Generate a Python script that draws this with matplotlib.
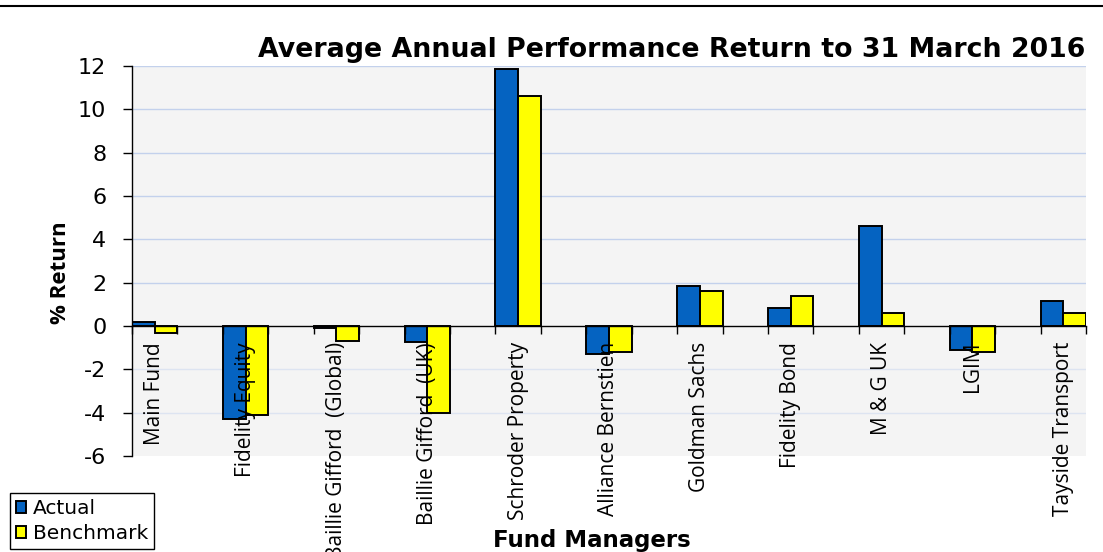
import matplotlib

matplotlib.use("Agg")

import matplotlib.pyplot as plt
import numpy as np
from matplotlib.lines import Line2D
from matplotlib.patches import Patch


OUTPUT_PATH = "out.png"

FUND_MANAGERS = [
    "Main Fund",
    "Fidelity Equity",
    "Baillie Gifford  (Global)",
    "Baillie Gifford  (UK)",
    "Schroder Property",
    "Alliance Bernstien",
    "Goldman Sachs",
    "Fidelity Bond",
    "M & G UK",
    "LGIM",
    "Tayside Transport",
]

ACTUAL_RETURN = [0.2, -4.3, -0.1, -0.75, 11.85, -1.3, 1.85, 0.85, 4.6, -1.1, 1.15]
BENCHMARK_RETURN = [-0.3, -4.1, -0.7, -4.0, 10.6, -1.2, 1.6, 1.4, 0.6, -1.2, 0.6]

Y_TICKS = [-6, -4, -2, 0, 2, 4, 6, 8, 10, 12]

ACTUAL_COLOUR = "#0563C1"
BENCHMARK_COLOUR = "#FFFF00"
BAR_WIDTH = 0.25

plt.rcParams["axes.unicode_minus"] = False


def plot_returns():
    fig = plt.figure(figsize=(11.03, 5.52), dpi=100)
    ax = fig.add_axes([132 / 1103, 1 - 456 / 552, 954 / 1103, 390 / 552])
    ax.set_facecolor("#f4f4f4")

    x = np.arange(len(FUND_MANAGERS))

    ax.bar(
        x - BAR_WIDTH / 2,
        ACTUAL_RETURN,
        BAR_WIDTH,
        color=ACTUAL_COLOUR,
        edgecolor="black",
        linewidth=1.4,
    )
    ax.bar(
        x + BAR_WIDTH / 2,
        BENCHMARK_RETURN,
        BAR_WIDTH,
        color=BENCHMARK_COLOUR,
        edgecolor="black",
        linewidth=1.4,
    )

    # gridlines behind the bars, lighter below zero
    for tick in Y_TICKS:
        if tick > 0:
            ax.axhline(tick, color="#c3d1ec", linewidth=1, zorder=0.5)
        elif -6 < tick < 0:
            ax.axhline(tick, color="#dde4f1", linewidth=1, zorder=0.5)

    ax.set_xlim(-BAR_WIDTH, len(FUND_MANAGERS) - 1 + BAR_WIDTH)
    ax.set_ylim(Y_TICKS[0], Y_TICKS[-1])
    ax.set_yticks(Y_TICKS)

    ax.spines[["top", "right"]].set_visible(False)
    ax.spines["bottom"].set_position(("data", 0))
    ax.spines["bottom"].set_linewidth(1)
    ax.spines["left"].set_linewidth(1)

    # category names sit just under the zero line, as in the original sheet
    ax.set_xticks(x)
    ax.set_xticklabels(FUND_MANAGERS, rotation=90, fontsize=15, family="Open Sans")
    ax.set_xticks(np.concatenate([x - BAR_WIDTH, x + BAR_WIDTH]), minor=True)
    ax.tick_params(axis="x", which="major", length=0, pad=11.5)
    ax.tick_params(axis="x", which="minor", length=6, width=1, direction="out")
    ax.tick_params(axis="y", length=6.5, width=1, pad=12, labelsize=16)
    for label in ax.get_yticklabels():
        label.set_fontfamily("DejaVu Sans")

    fig.text(
        672 / 1103,
        1 - 50 / 552,
        "Average Annual Performance Return to 31 March 2016",
        ha="center",
        va="center",
        fontsize=19.3,
        fontweight="bold",
        family="DejaVu Sans",
    )
    fig.text(
        60 / 1103,
        1 - 273 / 552,
        "% Return",
        ha="center",
        va="center",
        rotation=90,
        fontsize=16,
        fontweight="bold",
        family="Open Sans",
    )
    fig.text(
        592 / 1103,
        1 - 540 / 552,
        "Fund Managers",
        ha="center",
        va="center",
        fontsize=16.5,
        fontweight="bold",
        family="DejaVu Sans",
    )

    handles = [
        Patch(facecolor=ACTUAL_COLOUR, edgecolor="black", linewidth=1.4, label="Actual"),
        Patch(facecolor=BENCHMARK_COLOUR, edgecolor="black", linewidth=1.4, label="Benchmark"),
    ]
    legend = fig.legend(
        handles=handles,
        loc="lower left",
        bbox_to_anchor=(10 / 1103, 1 - 549 / 552),
        bbox_transform=fig.transFigure,
        borderaxespad=0,
        fancybox=False,
        framealpha=1,
        edgecolor="black",
        prop={"family": "DejaVu Sans", "size": 14.5},
        handlelength=0.5,
        handleheight=0.5,
        handletextpad=0.35,
        labelspacing=0.3,
        borderpad=0.3,
    )
    legend.get_frame().set_linewidth(1)

    fig.add_artist(
        Line2D([0, 1], [1 - 6 / 552, 1 - 6 / 552], transform=fig.transFigure, color="black", linewidth=1.5)
    )

    fig.savefig(OUTPUT_PATH, dpi=100)
    plt.close(fig)


def main():
    plot_returns()


if __name__ == "__main__":
    main()
